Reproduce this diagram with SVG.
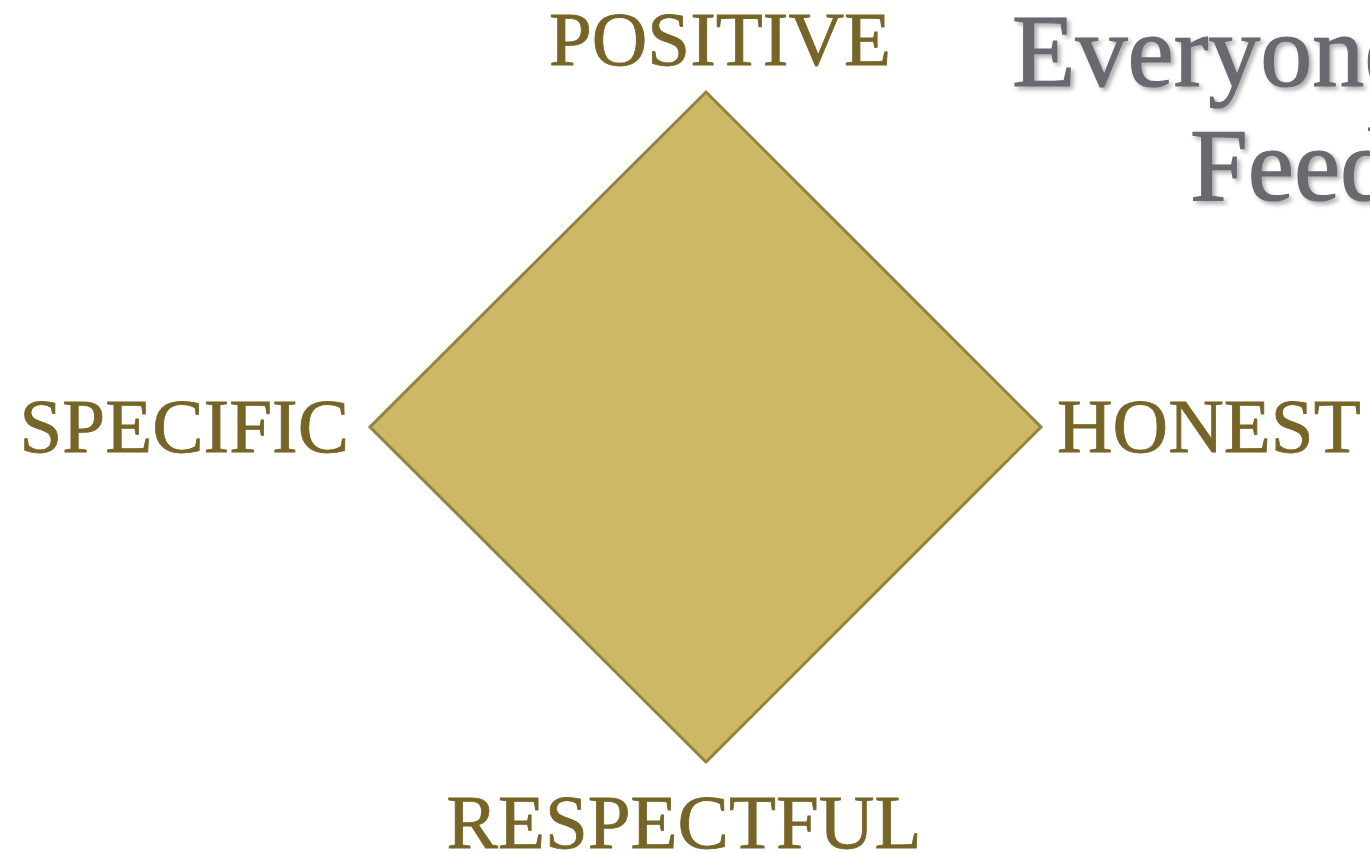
<svg xmlns="http://www.w3.org/2000/svg" width="1370" height="853" viewBox="0 0 1370 853">
  <defs>
    <filter id="shadow" x="-10%" y="-20%" width="130%" height="150%">
      <feDropShadow dx="3" dy="3" stdDeviation="2" flood-color="#8a8a8a" flood-opacity="0.7"/>
    </filter>
  </defs>
  <style>
    .lbl { font-family: "Liberation Serif", "Times New Roman", serif; font-size: 77px; fill: #776427; stroke: #776427; stroke-width: 0.8; }
    .title { font-family: "Liberation Serif", "Times New Roman", serif; font-size: 104px; fill: #6a6870; stroke: #6a6870; stroke-width: 1.2; }
    .diamond { fill: #cdb866; stroke: #938241; stroke-width: 3; stroke-linejoin: miter; }
  </style>
  <rect width="1370" height="853" fill="#ffffff"/>
  <g id="title" filter="url(#shadow)">
    <text class="title" x="1012" y="86">Everyone</text>
    <text class="title" x="1190" y="200">Feedback</text>
  </g>
  <g id="diamond">
    <polygon class="diamond" points="706,92 1041,427 706,762 370,427"/>
  </g>
  <g id="connectors"></g>
  <g id="label-positive"><text class="lbl" x="720" y="65" text-anchor="middle">POSITIVE</text></g>
  <g id="label-specific"><text class="lbl" x="349" y="452" text-anchor="end">SPECIFIC</text></g>
  <g id="label-honest"><text class="lbl" x="1057" y="452">HONEST</text></g>
  <g id="label-respectful"><text class="lbl" x="684" y="848" text-anchor="middle">RESPECTFUL</text></g>
</svg>
